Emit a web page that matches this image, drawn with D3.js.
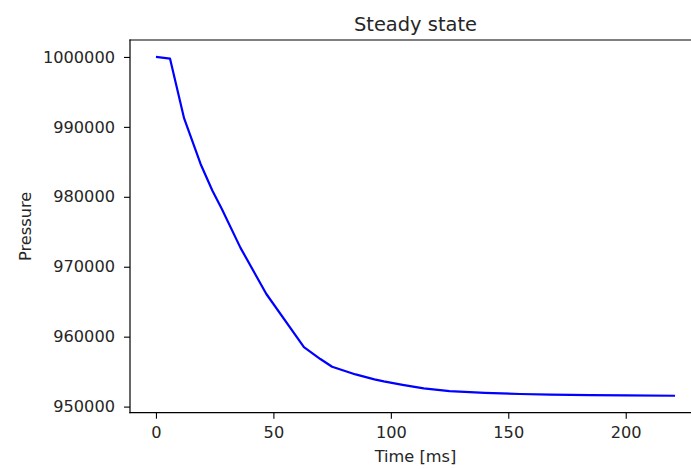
<!DOCTYPE html>
<html>
<head>
<meta charset="utf-8">
<script src="https://cdn.jsdelivr.net/npm/d3@7"></script>
<style>
  html, body { margin: 0; padding: 0; background: #fff; overflow: hidden; }
  svg { display: block; }
  text { font-family: "DejaVu Sans", sans-serif; fill: #262626; }
</style>
</head>
<body>
<svg id="chart" width="691" height="469"></svg>
<script>
// Data
const timeMs = [0, 6, 12, 19, 24, 28, 36, 47, 63, 70, 75, 85, 93, 97, 105, 114, 125, 140, 155, 168, 185, 200, 221];
const pressure = [1000000, 999750, 991200, 984700, 980900, 978300, 972700, 966100, 958500, 956800, 955700, 954600, 953900, 953600, 953100, 952600, 952200, 951950, 951800, 951720, 951650, 951600, 951550];
const xTicks = [0, 50, 100, 150, 200];
const yTicks = [950000, 960000, 970000, 980000, 990000, 1000000];
const title = "Steady state";
const xLabel = "Time [ms]";
const yLabel = "Pressure";

const svg = d3.select("#chart");
const mLeft = 130, mRight = 701, mTop = 40, mBottom = 412.7;
const fs = 16.2;

const data = timeMs.map((t, i) => ({ t, p: pressure[i] }));
const xExt = d3.extent(timeMs), yExt = d3.extent(pressure);
const xm = (xExt[1] - xExt[0]) * 0.05, ym = (yExt[1] - yExt[0]) * 0.05;

const x = d3.scaleLinear().domain([xExt[0] - xm, xExt[1] + xm]).range([mLeft, mRight]);
const y = d3.scaleLinear().domain([yExt[0] - ym, yExt[1] + ym]).range([mBottom, mTop]);

// line
svg.append("path")
  .datum(data)
  .attr("fill", "none")
  .attr("stroke", "#0000ff")
  .attr("stroke-width", 2.2)
  .attr("stroke-linejoin", "round")
  .attr("d", d3.line().x(d => x(d.t)).y(d => y(d.p)));

// spines (right spine lies outside the picture)
const spines = [
  [mLeft, mTop, mLeft, mBottom],
  [mLeft, mTop, mRight, mTop],
  [mLeft, mBottom, mRight, mBottom]
];
svg.selectAll("line.spine").data(spines).join("line")
  .attr("class", "spine")
  .attr("x1", d => d[0]).attr("y1", d => d[1])
  .attr("x2", d => d[2]).attr("y2", d => d[3])
  .attr("stroke", "#000").attr("stroke-width", 1.2)
  .attr("stroke-linecap", "square");

// x axis
const xAxis = d3.axisBottom(x).tickValues(xTicks).tickFormat(d3.format("d")).tickSize(6).tickPadding(8);
const gx = svg.append("g").attr("transform", `translate(0,${mBottom})`).call(xAxis);
gx.select(".domain").remove();
gx.selectAll(".tick line").attr("stroke", "#000").attr("stroke-width", 1.1);
gx.selectAll(".tick text").attr("font-size", fs + "px").attr("font-family", "DejaVu Sans").attr("fill", "#262626");

// y axis
const yAxis = d3.axisLeft(y).tickValues(yTicks).tickFormat(d3.format("d")).tickSize(6).tickPadding(9);
const gy = svg.append("g").attr("transform", `translate(${mLeft},0)`).call(yAxis);
gy.select(".domain").remove();
gy.selectAll(".tick line").attr("stroke", "#000").attr("stroke-width", 1.1);
gy.selectAll(".tick text").attr("font-size", fs + "px").attr("font-family", "DejaVu Sans").attr("fill", "#262626");

// title
svg.append("text")
  .attr("x", (mLeft + mRight) / 2).attr("y", 31)
  .attr("text-anchor", "middle")
  .attr("font-size", (fs * 1.2) + "px")
  .text(title);

// x label
svg.append("text")
  .attr("x", (mLeft + mRight) / 2).attr("y", 462)
  .attr("text-anchor", "middle")
  .attr("font-size", fs + "px")
  .text(xLabel);

// y label
svg.append("text")
  .attr("transform", `translate(31,${(mTop + mBottom) / 2}) rotate(-90)`)
  .attr("text-anchor", "middle")
  .attr("font-size", fs + "px")
  .text(yLabel);
</script>
</body>
</html>
